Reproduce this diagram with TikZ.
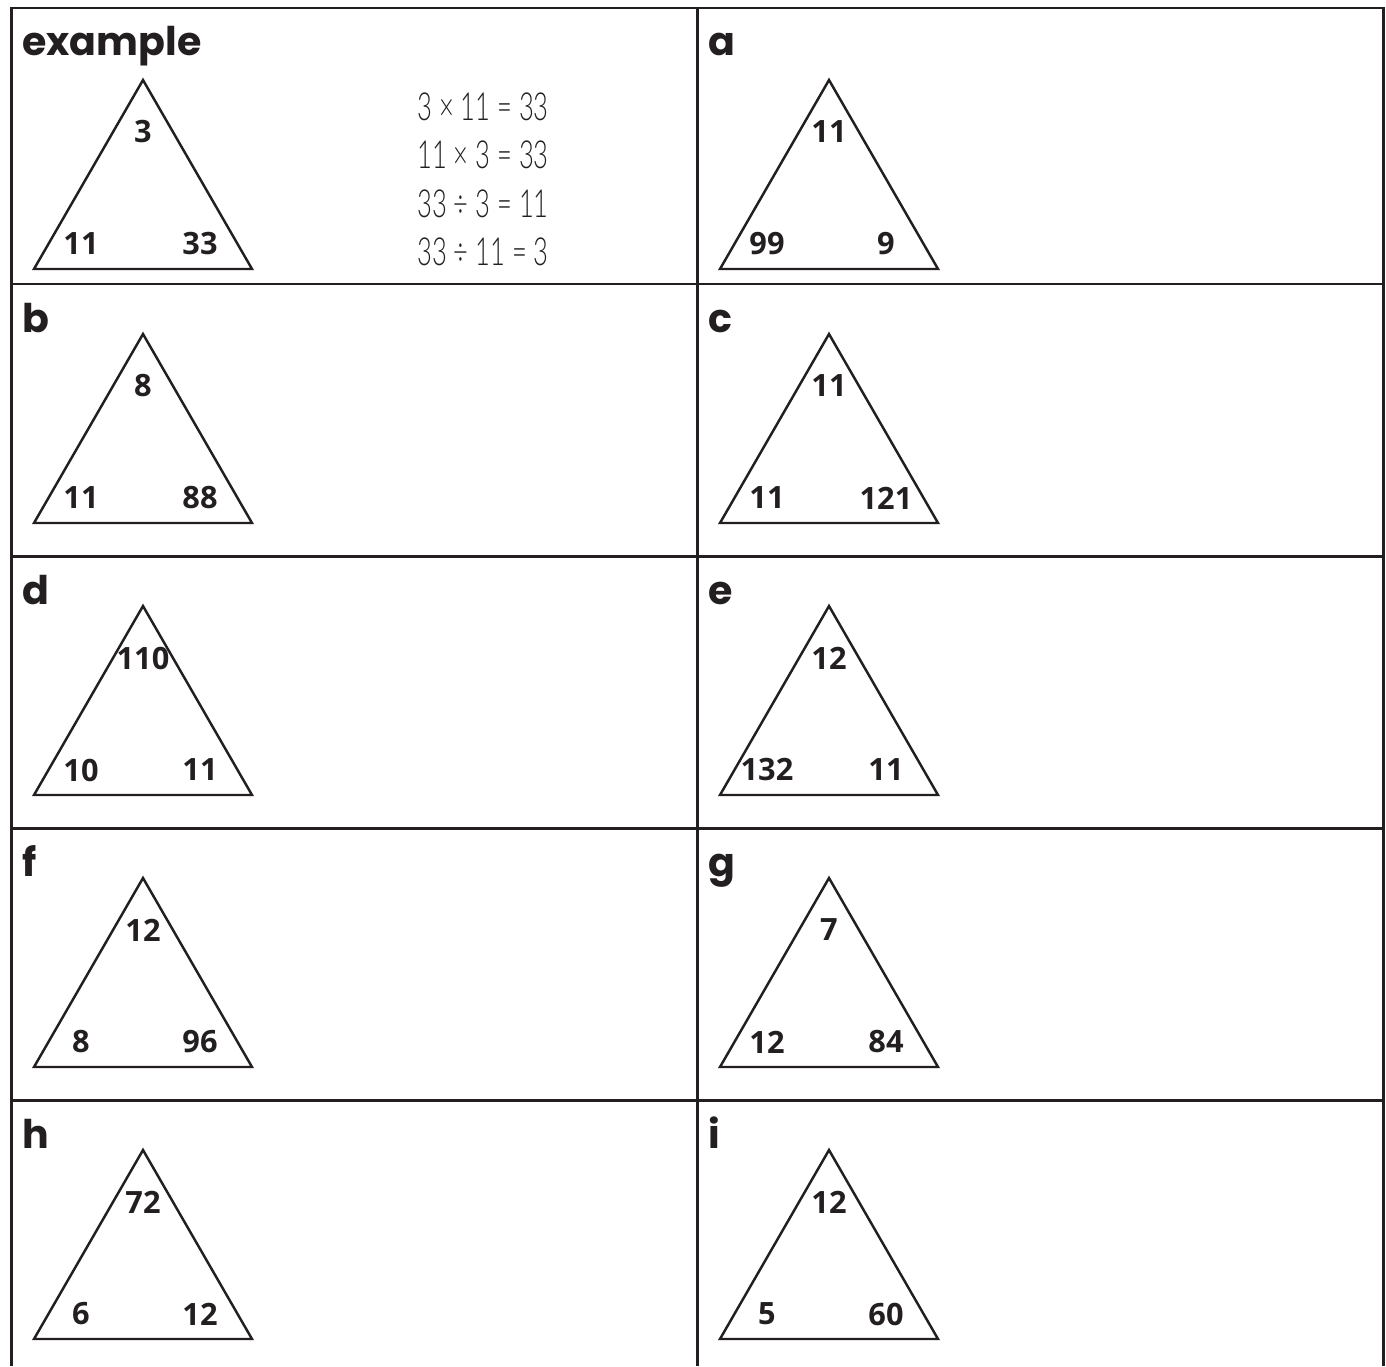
\documentclass[tikz,border=0pt]{standalone}
\usepackage{fontspec}
\usepackage{graphicx}
\usepackage{tikz}
\usetikzlibrary{positioning,calc}
\setmainfont{Lato}
\newfontfamily\numfont{Open Sans}
\newfontfamily\lblfont{Poppins}
\newfontfamily\handfont{Lato Light}
\definecolor{ink}{HTML}{231F20}
\newcommand{\fact}[1]{\scalebox{0.66}[1]{#1}}

\begin{document}
\begin{tikzpicture}[
  x=0.02cm, y=-0.02cm,
  grid/.style={draw=ink, line width=1.7pt},
  tri/.style={draw=ink, line width=1.4pt, line join=miter},
  num/.style={inner sep=0pt, font=\fontsize{17.5}{20}\selectfont\numfont\bfseries, text=ink},
  lbl/.style={anchor=base west, inner sep=0pt, font=\fontsize{22.5}{28}\selectfont\lblfont\bfseries, text=ink},
  eqn/.style={anchor=base west, inner sep=0pt, font=\fontsize{22}{26}\selectfont\handfont, text=ink}]
\useasboundingbox (0,0) rectangle (1386,1366);
% grid of the panels
\draw[grid] (11.5,1366) -- (11.5,8) -- (1383,8) -- (1383,1366);
\draw[grid] (697,8) -- (697,1366);
\foreach \ly in {284,556,828,1100}
  \draw[grid] (11.5,\ly) -- (1383,\ly);
% panel labels
\node[lbl] (lbl-ex) at (22,55) {example};
\foreach \name/\lx/\ly in {a/708/55, b/22/332, c/708/332, d/22/604,
    e/708/604, f/22/876, g/708/876, h/22/1148, i/708/1148}
  \node[lbl] (lbl-\name) at (\lx,\ly) {\name};
% number triangles
\foreach \name/\cx/\ay/\t/\l/\r in {ex/143/80/3/11/33, a/829/80/11/99/9,
    b/143/334/8/11/88, c/829/334/11/11/121, d/143/606/110/10/11,
    e/829/606/12/132/11, f/143/878/12/8/96, g/829/878/7/12/84,
    h/143/1150/72/6/12, i/829/1150/12/5/60} {
  \coordinate (\name-apex) at (\cx,\ay);
  \coordinate (\name-left) at ($(\cx,\ay)+(-109,189)$);
  \coordinate (\name-right) at ($(\cx,\ay)+(109,189)$);
  \draw[tri] (\name-apex) -- (\name-left) -- (\name-right) -- cycle;
  \node[num] (\name-top) at ($(\name-apex)+(0,52)$) {\t};
  \node[num] (\name-bl) at ($(\name-apex)+(-62,164)$) {\l};
  \node[num] (\name-br) at ($(\name-apex)+(57,164)$) {\r};
}
% the four facts
\node[eqn] (eq1) at (417,120) {\fact{3 × 11 = 33}};
\node[eqn] (eq2) at (417,168) {\fact{11 × 3 = 33}};
\node[eqn] (eq3) at (417,217) {\fact{33 ÷ 3 = 11}};
\node[eqn] (eq4) at (417,265) {\fact{33 ÷ 11 = 3}};
\end{tikzpicture}
\end{document}
